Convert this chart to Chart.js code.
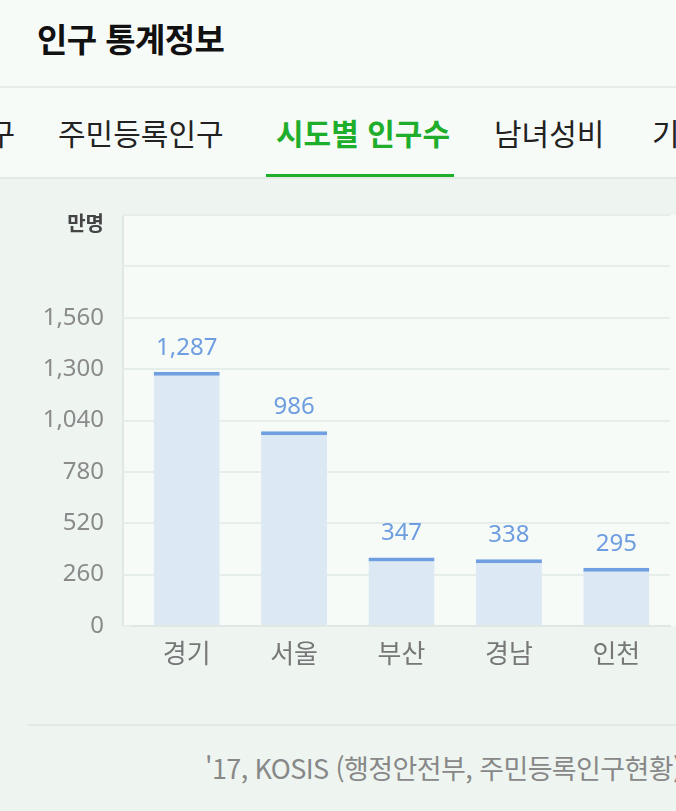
<!DOCTYPE html>
<html lang="ko">
<head>
<meta charset="utf-8">
<script src="https://cdn.jsdelivr.net/npm/chart.js@4"></script>
<style>
  html, body { margin:0; padding:0; width:676px; height:811px; overflow:hidden; background:#eef5f1; font-family:'Noto Sans CJK KR','Noto Sans',sans-serif; }
  #header { position:absolute; left:0; top:0; width:676px; height:86px; background:#f7fbf8; border-bottom:2px solid #e6ede9; }
  #title { position:absolute; left:37px; top:14px; font-size:33px; font-weight:700; color:#111; letter-spacing:-0.6px; line-height:48px; }
  #tabs { position:absolute; left:0; top:88px; width:676px; height:89px; background:#f7fbf8; border-bottom:2px solid #e3eae6; overflow:hidden; }
  .tab { position:absolute; top:22px; font-size:30px; line-height:44px; color:#222; white-space:nowrap; }
  .tab.active { color:#1fae2c; font-weight:700; }
  #underline { position:absolute; left:266px; top:174px; width:188px; height:3px; background:#1fae2c; }
  #chartWrap { position:absolute; left:0; top:200px; width:676px; height:480px; }
  #sep { position:absolute; left:28px; top:724px; width:648px; height:2px; background:#e2e9e5; }
  #source { position:absolute; left:205px; top:750px; font-size:27px; line-height:36px; color:#888; white-space:nowrap; letter-spacing:-0.6px; }
</style>
</head>
<body>
<div id="header"><div id="title">인구 통계정보</div></div>
<div id="tabs">
  <div class="tab" style="left:-40px;">인구</div>
  <div class="tab" style="left:58px;">주민등록인구</div>
  <div class="tab active" style="left:276px;">시도별 인구수</div>
  <div class="tab" style="left:494px;">남녀성비</div>
  <div class="tab" style="left:652px;">기타</div>
</div>
<div id="underline"></div>
<div id="chartWrap"><canvas id="c" width="676" height="480"></canvas></div>
<div id="sep"></div>
<div id="source">'17, KOSIS (행정안전부, 주민등록인구현황)</div>
<script>
const categories = ['경기', '서울', '부산', '경남', '인천'];
const population = [1287, 986, 347, 338, 295];
const yTickValues = [0, 260, 520, 780, 1040, 1300, 1560, 1820, 2080];
const unitLabel = '만명';

const FONT = "'Noto Sans','Noto Sans CJK KR',sans-serif";

const bgPlugin = {
  id: 'plotBg',
  beforeDraw(chart) {
    const { ctx, chartArea: a } = chart;
    ctx.save();
    ctx.fillStyle = '#f6fbf7';
    ctx.fillRect(a.left - 10, a.top, chart.width - (a.left - 10), a.bottom - a.top);
    ctx.strokeStyle = '#e0e8e4';
    ctx.lineWidth = 2;
    ctx.beginPath();
    ctx.moveTo(a.left - 10, a.top);
    ctx.lineTo(a.left - 10, a.bottom + 1);
    ctx.stroke();
    ctx.restore();
  }
};

const labelPlugin = {
  id: 'valueLabels',
  afterDatasetsDraw(chart) {
    const { ctx } = chart;
    const meta = chart.getDatasetMeta(0);
    ctx.save();
    ctx.fillStyle = '#6e9de0';
    ctx.font = "24px " + FONT;
    ctx.textAlign = 'center';
    ctx.textBaseline = 'bottom';
    meta.data.forEach((bar, i) => {
      ctx.fillText(population[i].toLocaleString('en-US'), bar.x, bar.y - 12);
    });
    ctx.restore();
  }
};

new Chart(document.getElementById('c'), {
  type: 'bar',
  data: {
    labels: categories,
    datasets: [{
      data: population,
      backgroundColor: '#dce8f3',
      borderColor: '#6f9fe0',
      borderWidth: { top: 4, left: 0, right: 0, bottom: 0 },
      borderSkipped: 'bottom',
      barPercentage: 0.615,
      categoryPercentage: 1.0
    }]
  },
  options: {
    responsive: false,
    animation: false,
    layout: { padding: { top: 15, left: 0, right: 6, bottom: 0 } },
    plugins: { legend: { display: false }, tooltip: { enabled: false } },
    scales: {
      x: {
        grid: { display: false, drawTicks: false },
        border: { display: true, color: '#e0e8e4', width: 2 },
        ticks: { color: '#777', font: { family: "'Noto Sans CJK KR',sans-serif", size: 26 }, padding: 12 },
        afterFit(scale) { scale.height = 54; scale.paddingLeft = 0; scale.paddingRight = 0; }
      },
      y: {
        min: 0, max: 2080,
        afterBuildTicks(scale) { scale.ticks = yTickValues.map(v => ({ value: v })); },
        grid: { color: '#e6eee9', lineWidth: 2, tickLength: 10, drawTicks: true },
        border: { display: false },
        ticks: {
          padding: 19,
          color: (c) => c.tick && c.tick.value === 2080 ? '#444' : '#8a8a8a',
          font: (c) => (c.tick && c.tick.value === 2080)
            ? { family: "'Noto Sans CJK KR',sans-serif", size: 20, weight: 'bold', lineHeight: 0.8 }
            : { family: FONT, size: 24 },
          callback: (v) => v === 2080 ? ['', unitLabel] : (v === 1820 ? '' : Number(v).toLocaleString('en-US'))
        },
        afterFit(scale) { scale.width = 133; scale.paddingTop = 0; scale.paddingBottom = 0; }
      }
    }
  },
  plugins: [bgPlugin, labelPlugin]
});
</script>
</body>
</html>
